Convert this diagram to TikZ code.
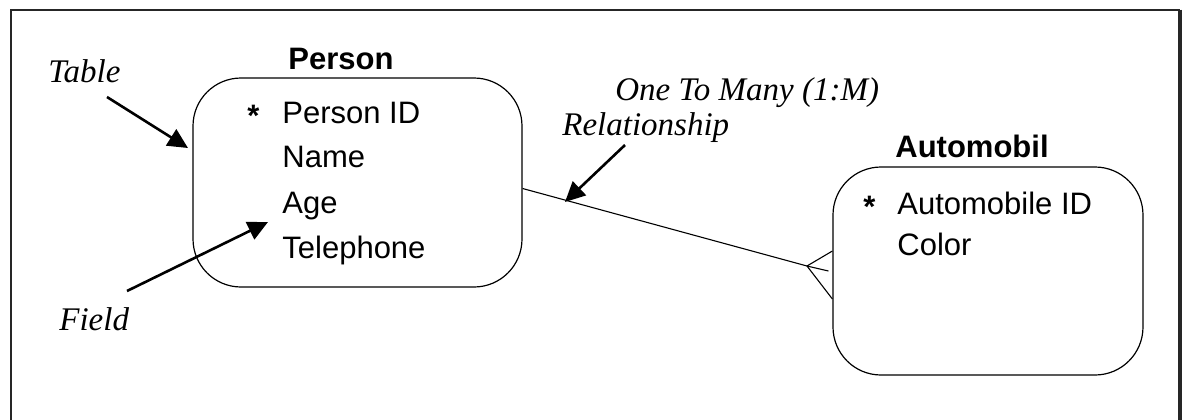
\documentclass[tikz,border=0pt]{standalone}
\usepackage{fontspec}
\newfontfamily\erdsans{Liberation Sans}
\newfontfamily\erdserif{Liberation Serif}
\usetikzlibrary{arrows.meta}

\tikzset{
  entity/.style={draw,line width=0.6pt,rounded corners=24pt,inner sep=0pt},
  entname/.style={font=\erdsans\bfseries\fontsize{15.5}{18}\selectfont,anchor=base,inner sep=0pt},
  attr/.style={font=\erdsans\fontsize{15.5}{18}\selectfont,anchor=base west,inner sep=0pt},
  note/.style={font=\erdserif\itshape\fontsize{16.5}{18}\selectfont,anchor=base west,inner sep=0pt},
  pointer/.style={line width=1.3pt,-{Triangle[length=10pt,width=9.5pt]}},
  link/.style={line width=0.55pt},
}

\begin{document}
\begin{tikzpicture}[x=0.5pt,y=-0.5pt]
\useasboundingbox (0,0) rectangle (1191,419);
% frame
\draw[line width=1pt,black!85] (11,425) -- (11,10) -- (1180,10);
\draw[line width=2pt,black!85] (1180,9.5) -- (1180,425);

% person table
\node[entity,minimum width=164.5pt,minimum height=104.5pt] (person) at (357.5,182.5) {};
\node[entname] (personname) at (341,69) {Person};
\node[attr] (pstar) at (247,126) {\bfseries *};
\node[attr] (pid) at (282,123) {Person ID};
\foreach \f/\y in {Name/167,Age/213,Telephone/258}
    \node[attr] (p\f) at (282,\y) {\f};

% automobile table
\node[entity,minimum width=155pt,minimum height=104pt] (auto) at (988,271) {};
\node[entname] (autoname) at (972,157) {Automobil};
\node[attr] (astar) at (863,217) {\bfseries *};
\node[attr] (aid) at (897,214) {Automobile ID};
\node[attr] (acolor) at (897,255) {Color};

% one to many link with crow foot
\coordinate (crow) at (807,266);
\draw[link] ([yshift=-3pt]person.east) -- (crow) -- ([xshift=-2pt]auto.west);
\draw[link] (crow) -- ([yshift=10pt]auto.west);
\draw[link] (crow) -- ([yshift=-14pt]auto.west);

% labels
\node[note] (tablelbl) at (48,82) {Table};
\node[note] (fieldlbl) at (59,330) {Field};
\node[note] (relone) at (615,100) {One To Many (1:M)};
\node[note] (reltwo) at (562,135) {Relationship};

% pointers
\coordinate (tabletail) at (107,97);
\coordinate (tablehead) at (188,148);
\coordinate (fieldtail) at (127,291);
\coordinate (fieldhead) at (268,222);
\coordinate (reltail) at (625,145);
\coordinate (relhead) at (565,202);
\draw[pointer] (tabletail) -- (tablehead);
\draw[pointer] (fieldtail) -- (fieldhead);
\draw[pointer] (reltail) -- (relhead);
\end{tikzpicture}
\end{document}
